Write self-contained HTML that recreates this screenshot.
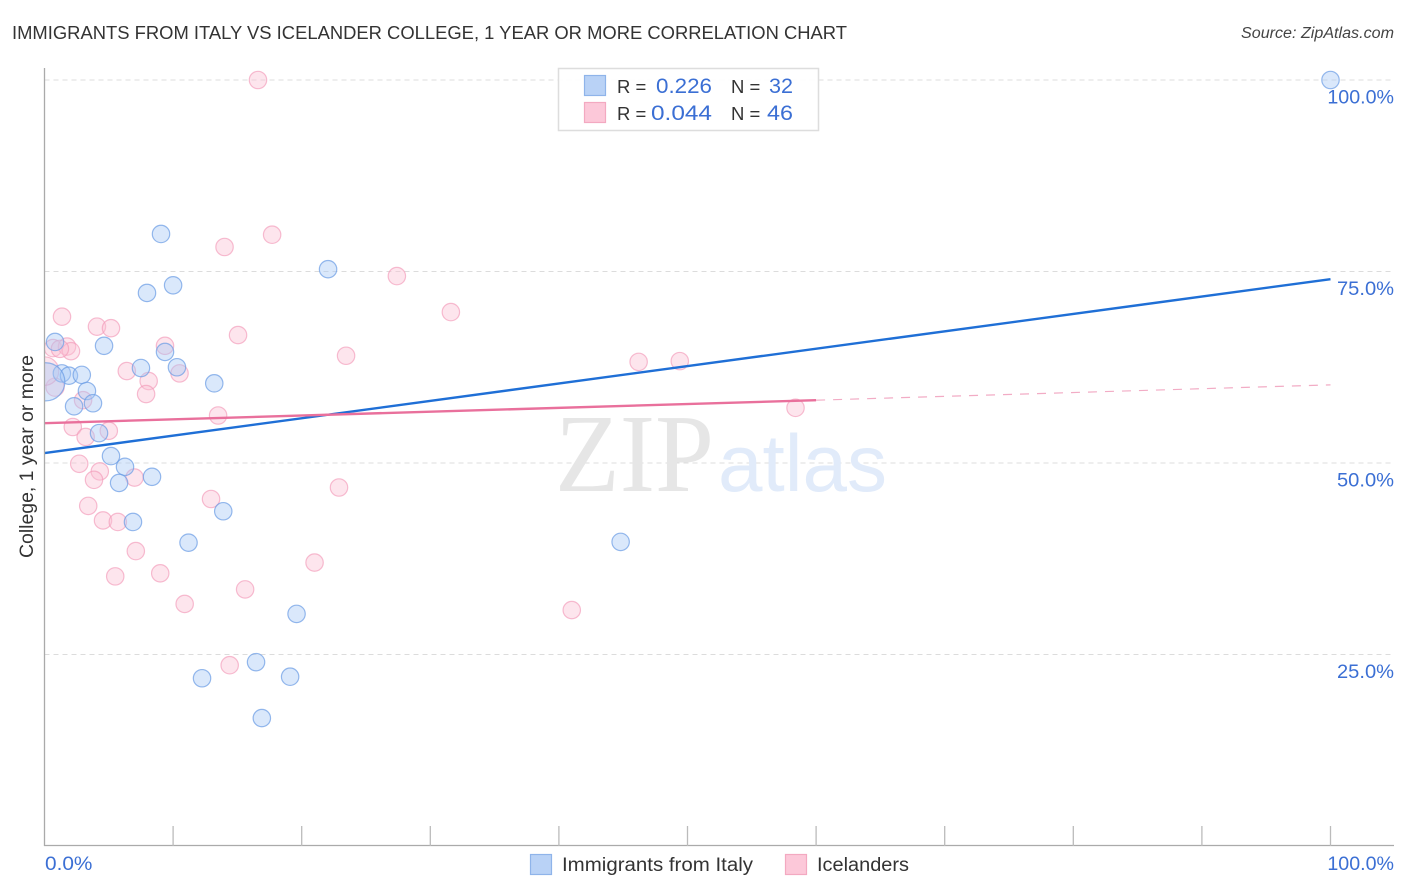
<!DOCTYPE html>
<html lang="en">
<head>
<meta charset="utf-8">
<title>Immigrants from Italy vs Icelander College, 1 Year or More Correlation Chart</title>
<style>
html,body{margin:0;padding:0;background:#fff;}
svg{display:block;font-family:"Liberation Sans",sans-serif;}
</style>
</head>
<body>
<svg id="chart" xmlns="http://www.w3.org/2000/svg" width="1406" height="892" viewBox="0 0 1406 892">
  <defs>
    <clipPath id="plot-clip"><rect x="45" y="60" width="1349" height="786"/></clipPath>
  </defs>
  <text x="12" y="39" font-size="18.5" fill="#333" textLength="835" lengthAdjust="spacingAndGlyphs">IMMIGRANTS FROM ITALY VS ICELANDER COLLEGE, 1 YEAR OR MORE CORRELATION CHART</text>
  <text x="1394" y="38" font-size="15.5" font-style="italic" fill="#444" text-anchor="end" textLength="153" lengthAdjust="spacingAndGlyphs">Source: ZipAtlas.com</text>

  <g id="grid"></g>

  <g>
    <text x="555" y="491" font-family="'Liberation Serif',serif" font-size="111" fill="#e6e6e6" textLength="159" lengthAdjust="spacingAndGlyphs">ZIP</text>
    <text x="718" y="491" font-size="81" fill="#e1ebfa" textLength="169" lengthAdjust="spacingAndGlyphs">atlas</text>
  </g>

  <g id="points" clip-path="url(#plot-clip)"></g>
  <g id="trends"></g>
  <g id="axes"></g>
  <g id="tick-labels"></g>

  <text transform="translate(33,558) rotate(-90)" font-size="19" fill="#333" textLength="203" lengthAdjust="spacingAndGlyphs">College, 1 year or more</text>

  <g>
    <rect x="558.5" y="68.5" width="260" height="62" fill="#fff" fill-opacity="0.9" stroke="#ddd" stroke-width="1.5"/>
    <rect x="584.5" y="75.5" width="21" height="20" fill="#b9d2f6" stroke="#8fb4ea" stroke-width="1.2"/>
    <rect x="584.5" y="102.5" width="21" height="20" fill="#fcc8d9" stroke="#f3a9c1" stroke-width="1.2"/>
    <text x="617" y="93" font-size="18.5" fill="#333">R =</text>
    <text x="656" y="93" font-size="21" fill="#3b6fd4" textLength="56" lengthAdjust="spacingAndGlyphs">0.226</text>
    <text x="731" y="93" font-size="18.5" fill="#333">N =</text>
    <text x="769" y="93" font-size="21" fill="#3b6fd4" textLength="24" lengthAdjust="spacingAndGlyphs">32</text>
    <text x="617" y="120" font-size="18.5" fill="#333">R =</text>
    <text x="651" y="120" font-size="21" fill="#3b6fd4" textLength="61" lengthAdjust="spacingAndGlyphs">0.044</text>
    <text x="731" y="120" font-size="18.5" fill="#333">N =</text>
    <text x="767" y="120" font-size="21" fill="#3b6fd4" textLength="26" lengthAdjust="spacingAndGlyphs">46</text>
  </g>

  <g>
    <rect x="530.5" y="854.5" width="21" height="20" fill="#b9d2f6" stroke="#8fb4ea" stroke-width="1.2"/>
    <text x="562" y="871" font-size="19" fill="#333" textLength="191" lengthAdjust="spacingAndGlyphs">Immigrants from Italy</text>
    <rect x="785.5" y="854.5" width="21" height="20" fill="#fcc8d9" stroke="#f3a9c1" stroke-width="1.2"/>
    <text x="817" y="871" font-size="19" fill="#333" textLength="92" lengthAdjust="spacingAndGlyphs">Icelanders</text>
  </g>
</svg>

<script>
// ---- chart data (percent values) ----
const italyX = [100, 9.06, 22.05, 10.0, 7.97, 0.82, 4.63, 9.37, 7.5, 10.3, 13.2, 1.35, 1.9, 2.9, 3.3, 2.3, 3.77, 4.24, 5.17, 6.26, 5.8, 8.36, 6.88, 13.9, 11.2, 44.8, 19.6, 12.25, 16.45, 19.1, 16.9, 0.1];
const italyY = [100, 79.9, 75.3, 73.2, 72.2, 65.8, 65.3, 64.5, 62.4, 62.5, 60.4, 61.7, 61.4, 61.5, 59.4, 57.4, 57.8, 53.9, 50.9, 49.5, 47.4, 48.2, 42.3, 43.7, 39.6, 39.7, 30.3, 21.9, 24.0, 22.1, 16.7, 60.6];
const italyWeight = [1, 1, 1, 1, 1, 1, 1, 1, 1, 1, 1, 1, 1, 1, 1, 1, 1, 1, 1, 1, 1, 1, 1, 1, 1, 1, 1, 1, 1, 1, 1, 4.8];

const icelandX = [16.6, 14.0, 17.7, 27.4, 31.6, 1.36, 4.08, 5.17, 15.05, 23.45, 9.37, 0.66, 1.75, 2.06, 1.2, 46.2, 49.4, 6.4, 10.5, 8.1, 7.9, 0.82, 3.0, 13.5, 58.4, 2.2, 5.0, 3.2, 2.7, 4.3, 7.0, 3.85, 12.95, 22.9, 3.4, 4.55, 5.7, 7.1, 21.0, 5.5, 9.0, 15.6, 10.9, 41.0, 14.4, 0];
const icelandY = [100, 78.2, 79.8, 74.4, 69.7, 69.1, 67.8, 67.6, 66.7, 64.0, 65.3, 65.0, 65.2, 64.6, 64.9, 63.2, 63.3, 62.0, 61.7, 60.7, 59.0, 59.9, 58.2, 56.2, 57.2, 54.7, 54.2, 53.4, 49.9, 48.9, 48.1, 47.8, 45.3, 46.8, 44.4, 42.5, 42.3, 38.5, 37.0, 35.2, 35.6, 33.5, 31.6, 30.8, 23.6, 62.0];
const icelandWeight = [1, 1, 1, 1, 1, 1, 1, 1, 1, 1, 1, 1, 1, 1, 1, 1, 1, 1, 1, 1, 1, 1.1, 1, 1, 1, 1, 1, 1, 1, 1, 1, 1, 1, 1, 1, 1, 1, 1, 1, 1, 1, 1, 1, 1, 1, 2.7];

const italyTrendX = [0, 100];
const italyTrendY = [51.3, 74.0];
const icelandTrendX = [0, 60];
const icelandTrendY = [55.2, 58.2];
const icelandDashX = [60, 100];
const icelandDashY = [58.2, 60.2];

const yGridValues = [25, 50, 75, 100];
const yTickLabels = ["25.0%", "50.0%", "75.0%", "100.0%"];
const xTickValues = [0, 10, 20, 30, 40, 50, 60, 70, 80, 90, 100];
const xEdgeValues = [0, 100];
const xEdgeLabels = ["0.0%", "100.0%"];

// ---- axis functions ----
const NS = "http://www.w3.org/2000/svg";
function xScale(v) { return 44.5 + v * 12.86; }
function yScale(v) { return 846 - v * 7.66; }

function make(parent, tag, attrs) {
  const el = document.createElementNS(NS, tag);
  for (const k in attrs) el.setAttribute(k, attrs[k]);
  parent.appendChild(el);
  return el;
}

// gridlines
const grid = document.getElementById("grid");
yGridValues.forEach(function (v) {
  const line = make(grid, "line", {x1: 44.5, x2: 1394, y1: yScale(v), y2: yScale(v), stroke: "#dcdcdc", "stroke-width": 1, "stroke-dasharray": "5 4"});
  
  
});

// axes and ticks
const axes = document.getElementById("axes");
const yAxis = make(axes, "line", {x1: 44.5, x2: 44.5, y1: 68, y2: 846, stroke: "#aaa", "stroke-width": 1.3});


const xAxis = make(axes, "line", {x1: 44, x2: 1394, y1: 845.5, y2: 845.5, stroke: "#aaa", "stroke-width": 1.3});


xTickValues.forEach(function (v) {
  if (v === 0) return;
  const tick = make(axes, "line", {x1: xScale(v), x2: xScale(v), y1: 826, y2: 846, stroke: "#bbb", "stroke-width": 1.3});
  
  
});

// tick labels
const labelGroup = document.getElementById("tick-labels");
yGridValues.forEach(function (v, i) {
  const t = make(labelGroup, "text", {x: 1394, y: yScale(v) + 23.5, "font-size": 19, fill: "#3b6fd4", "text-anchor": "end", textLength: yTickLabels[i].length * 9.6 + 9, lengthAdjust: "spacingAndGlyphs"});
  t.textContent = yTickLabels[i];
  
  
});
xEdgeValues.forEach(function (v, i) {
  const t = make(labelGroup, "text", {x: v === 0 ? 45 : 1394, y: 870, "font-size": 19, fill: "#3b6fd4", "text-anchor": v === 0 ? "start" : "end", textLength: xEdgeLabels[i].length * 9.6 + 9, lengthAdjust: "spacingAndGlyphs"});
  t.textContent = xEdgeLabels[i];
  
  
});

// scatter points
const pointsGroup = document.getElementById("points");
function drawItaly() {
  italyX.forEach(function (x, i) {
    const c = make(pointsGroup, "circle", {cx: xScale(x), cy: yScale(italyY[i]), r: 8.7 * Math.sqrt(italyWeight[i]), fill: "#a6c8f5", "fill-opacity": 0.42, stroke: "#6a9be4", "stroke-opacity": 0.7, "stroke-width": 1.2});
    
    
  });
}
function drawIceland() {
  icelandX.forEach(function (x, i) {
    const c = make(pointsGroup, "circle", {cx: xScale(x), cy: yScale(icelandY[i]), r: 8.7 * Math.sqrt(icelandWeight[i]), fill: "#fbc2d5", "fill-opacity": 0.42, stroke: "#f29ab8", "stroke-opacity": 0.65, "stroke-width": 1.2});
    
    
  });
}
drawIceland();
drawItaly();

// trend lines
const trends = document.getElementById("trends");
const italyTrend = make(trends, "line", {x1: xScale(italyTrendX[0]), y1: yScale(italyTrendY[0]), x2: xScale(italyTrendX[1]), y2: yScale(italyTrendY[1]), stroke: "#1f6fd6", "stroke-width": 2.4});


const icelandTrend = make(trends, "line", {x1: xScale(icelandTrendX[0]), y1: yScale(icelandTrendY[0]), x2: xScale(icelandTrendX[1]), y2: yScale(icelandTrendY[1]), stroke: "#e9709c", "stroke-width": 2.4});


const icelandDash = make(trends, "line", {x1: xScale(icelandDashX[0]), y1: yScale(icelandDashY[0]), x2: xScale(icelandDashX[1]), y2: yScale(icelandDashY[1]), stroke: "#f2acc5", "stroke-width": 1.2, "stroke-dasharray": "9 8"});


</script>
</body>
</html>
